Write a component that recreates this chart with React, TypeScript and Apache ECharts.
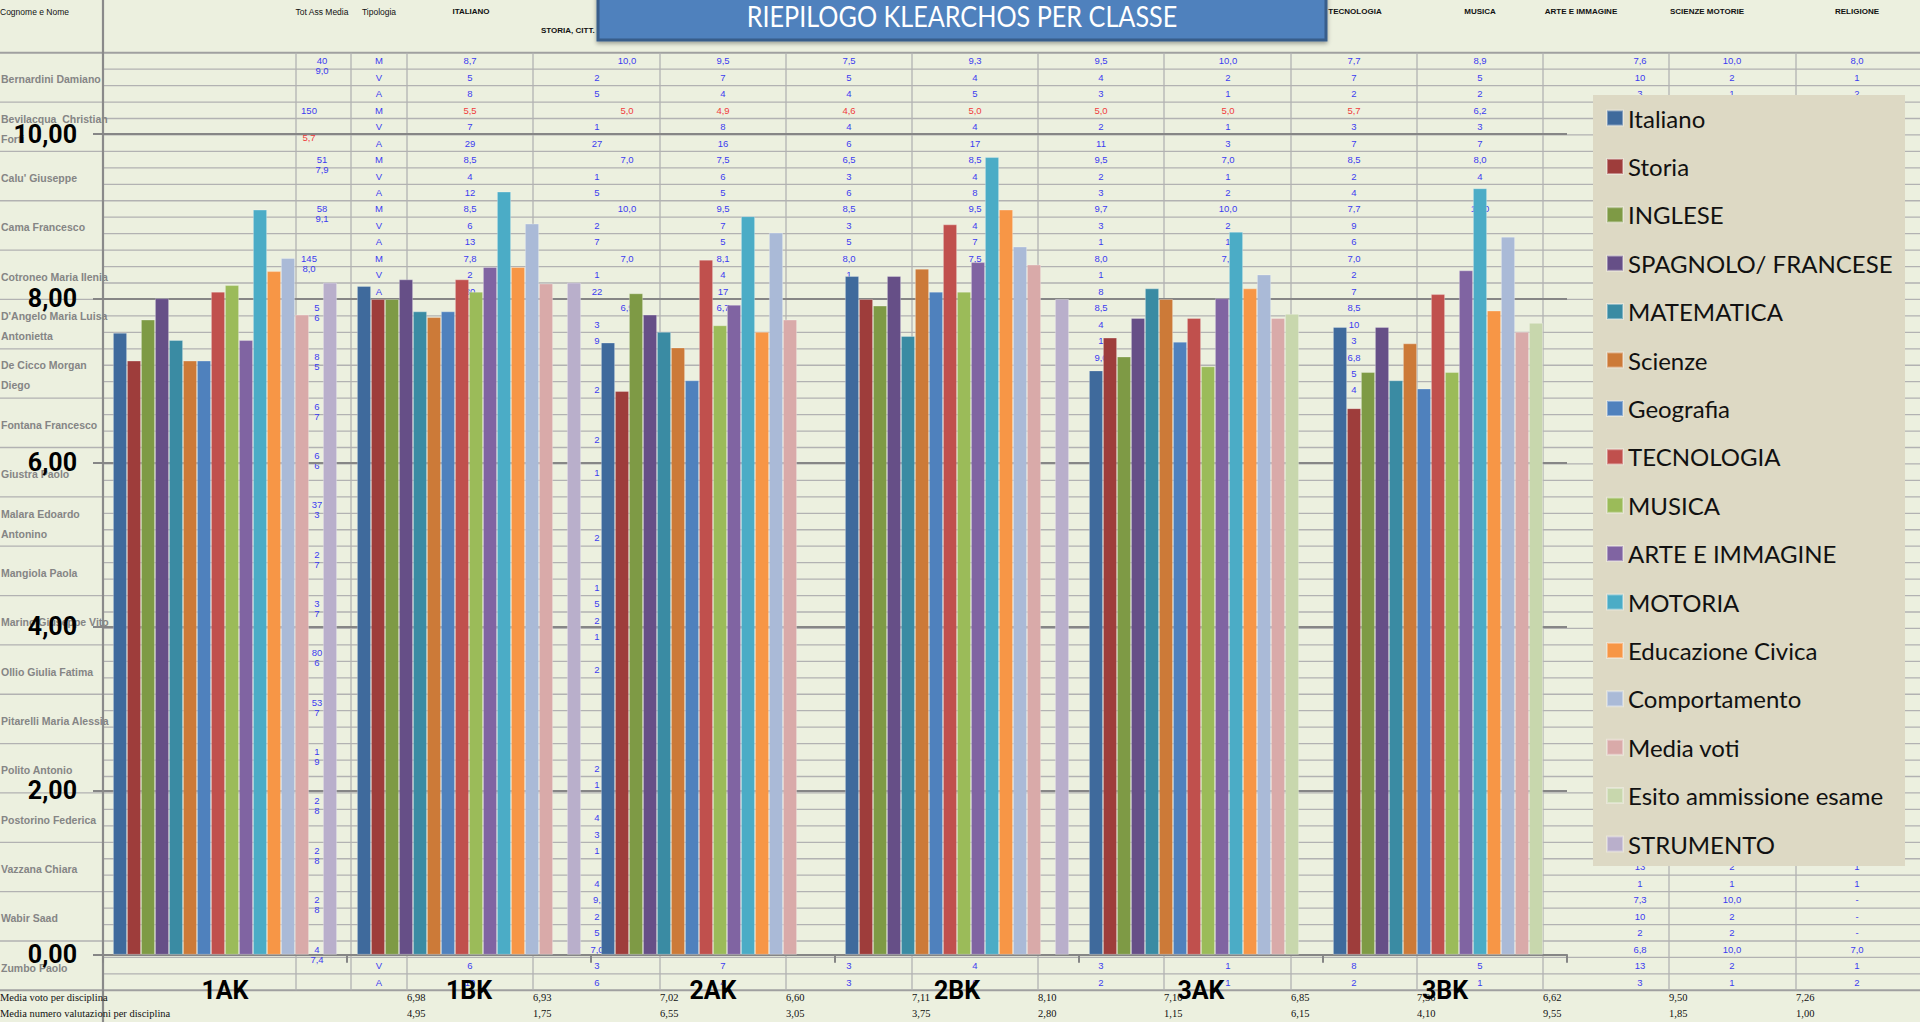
import React, { useEffect, useRef } from "react";
import * as echarts from "echarts";

// ---------------- chart data ----------------
const classes = ["1AK", "1BK", "2AK", "2BK", "3AK", "3BK"];
const subjectNames = [
  "Italiano", "Storia", "INGLESE", "SPAGNOLO/ FRANCESE", "MATEMATICA", "Scienze",
  "Geografia", "TECNOLOGIA", "MUSICA", "ARTE E IMMAGINE", "MOTORIA",
  "Educazione Civica", "Comportamento", "Media voti", "Esito ammissione esame", "STRUMENTO",
];
const subjectColors = [
  "#3F6A9C", "#9E3D3B", "#7E9A45", "#664F87", "#3A8BA3", "#CC7A38",
  "#4F81BD", "#C0504D", "#9BBB59", "#8064A2", "#4BACC6",
  "#F79646", "#AABAD7", "#D9AAA9", "#C8D7AD", "#B9AFCB",
];
const italiano = [7.58, 8.15, 7.46, 8.27, 7.12, 7.65];
const storia = [7.24, 7.99, 6.87, 7.99, 7.52, 6.66];
const inglese = [7.74, 7.99, 8.06, 7.91, 7.29, 7.1];
const spagnoloFrancese = [8.0, 8.23, 7.8, 8.27, 7.76, 7.65];
const matematica = [7.49, 7.84, 7.59, 7.54, 8.12, 7.0];
const scienze = [7.24, 7.77, 7.4, 8.36, 7.99, 7.45];
const geografia = [7.24, 7.84, 7.0, 8.08, 7.47, 6.9];
const tecnologia = [8.08, 8.23, 8.47, 8.9, 7.76, 8.05];
const musica = [8.16, 8.08, 7.67, 8.08, 7.17, 7.1];
const arteImmagine = [7.49, 8.38, 7.92, 8.44, 8.0, 8.34];
const motoria = [9.08, 9.3, 9.0, 9.72, 8.81, 9.34];
const educazioneCivica = [8.33, 8.38, 7.59, 9.08, 8.12, 7.85];
const comportamento = [8.49, 8.91, 8.8, 8.63, 8.29, 8.75];
const mediaVoti = [7.8, 8.18, 7.74, 8.41, 7.76, 7.59];
const esitoAmmissione = [null, null, null, null, 7.81, 7.7];
const strumento = [8.19, 8.19, null, 7.99, null, null];
const seriesValues = [
  italiano, storia, inglese, spagnoloFrancese, matematica, scienze, geografia,
  tecnologia, musica, arteImmagine, motoria, educazioneCivica, comportamento,
  mediaVoti, esitoAmmissione, strumento,
];
const titleText = "RIEPILOGO KLEARCHOS PER CLASSE";

// ---------------- background spreadsheet texts ----------------
const headerTexts = [
  "Cognome e Nome", "Tot Ass Media", "Tipologia", "ITALIANO", "STORIA, CITT.",
  "TECNOLOGIA", "MUSICA", "ARTE E IMMAGINE", "SCIENZE MOTORIE", "RELIGIONE",
];
const studentNames = [
  ["Bernardini Damiano"], ["Bevilacqua  Christian", "Forti"], ["Calu' Giuseppe"],
  ["Cama Francesco"], ["Cotroneo Maria Ilenia"], ["D'Angelo Maria Luisa", "Antonietta"],
  ["De Cicco Morgan", "Diego"], ["Fontana Francesco"], ["Giustra Paolo"],
  ["Malara Edoardo", "Antonino"], ["Mangiola Paola"], ["Marino Giuseppe Vito"],
  ["Ollio Giulia Fatima"], ["Pitarelli Maria Alessia"], ["Polito Antonio"],
  ["Postorino Federica"], ["Vazzana Chiara"], ["Wabir Saad"], ["Zumbo Paolo"],
];
const tipologia = ["M", "V", "A"];
const totAssMedia = [
  ["40", "9,0"], ["150", "5,7"], ["51", "7,9"], ["58", "9,1"], ["145", "8,0"],
  ["5", "6"], ["8", "5"], ["6", "7"], ["6", "6"], ["37", "3"], ["2", "7"],
  ["3", "7"], ["80", "6"], ["53", "7"], ["1", "9"], ["2", "8"], ["2", "8"],
  ["2", "8"], ["4", "7,4"],
];
const tableRows = [
  ["8,7", "10,0", "9,5", "7,5", "9,3", "9,5", "10,0", "7,7", "8,9", "7,6", "10,0", "8,0"],
  ["5", "2", "7", "5", "4", "4", "2", "7", "5", "10", "2", "1"],
  ["8", "5", "4", "4", "5", "3", "1", "2", "2", "3", "1", "2"],
  ["5,5", "5,0", "4,9", "4,6", "5,0", "5,0", "5,0", "5,7", "6,2"],
  ["7", "1", "8", "4", "4", "2", "1", "3", "3"],
  ["29", "27", "16", "6", "17", "11", "3", "7", "7"],
  ["8,5", "7,0", "7,5", "6,5", "8,5", "9,5", "7,0", "8,5", "8,0"],
  ["4", "1", "6", "3", "4", "2", "1", "2", "4"],
  ["12", "5", "5", "6", "8", "3", "2", "4", ""],
  ["8,5", "10,0", "9,5", "8,5", "9,5", "9,7", "10,0", "7,7", "10,0"],
  ["6", "2", "7", "3", "4", "3", "2", "9", ""],
  ["13", "7", "5", "5", "7", "1", "1", "6", ""],
  ["7,8", "7,0", "8,1", "8,0", "7,5", "8,0", "7,0", "7,0", ""],
  ["2", "1", "4", "1", "", "1", "", "2", ""],
  ["30", "22", "17", "", "", "8", "", "7", ""],
  ["", "6,9", "6,7", "", "", "8,5", "", "8,5", ""],
  ["", "3", "", "", "", "4", "", "10", ""],
  ["", "9", "", "", "", "1", "", "3", ""],
  ["", "", "", "", "", "9,0", "", "6,8", ""],
  ["", "", "", "", "", "", "", "5", ""],
  ["", "2", "", "", "", "", "", "4", ""],
];
const redCells = [[3, 0], [3, 1], [3, 2], [3, 3], [3, 4], [3, 5], [3, 6], [3, 7]];
const extraCells: [number, number, string][] = [
  [23, 1, "2"], [25, 1, "1"], [29, 1, "2"], [32, 1, "1"], [33, 1, "5"], [34, 1, "2"],
  [35, 1, "1"], [37, 1, "2"], [43, 1, "2"], [44, 1, "1"], [46, 1, "4"], [47, 1, "3"],
  [48, 1, "1"], [50, 1, "4"], [51, 1, "9,"], [52, 1, "2"], [53, 1, "5"], [54, 1, "7,0"],
  [49, 9, "13"], [49, 10, "2"], [49, 11, "1"],
  [50, 9, "1"], [50, 10, "1"], [50, 11, "1"],
  [51, 9, "7,3"], [51, 10, "10,0"], [51, 11, "-"],
  [52, 9, "10"], [52, 10, "2"], [52, 11, "-"],
  [53, 9, "2"], [53, 10, "2"], [53, 11, "-"],
  [54, 9, "6,8"], [54, 10, "10,0"], [54, 11, "7,0"],
  [55, 0, "6"], [55, 1, "3"], [55, 2, "7"], [55, 3, "3"], [55, 4, "4"], [55, 5, "3"],
  [55, 6, "1"], [55, 7, "8"], [55, 8, "5"], [55, 9, "13"], [55, 10, "2"], [55, 11, "1"],
  [56, 0, "10"], [56, 1, "6"], [56, 2, "4"], [56, 3, "3"], [56, 4, "6"], [56, 5, "2"],
  [56, 6, "1"], [56, 7, "2"], [56, 8, "1"], [56, 9, "3"], [56, 10, "1"], [56, 11, "2"],
];
const summaryLabels = ["Media voto per disciplina", "Media numero valutazioni per disciplina"];
const mediaVotoDisciplina = ["6,98", "6,93", "7,02", "6,60", "7,11", "8,10", "7,10", "6,85", "7,36", "6,62", "9,50", "7,26"];
const mediaNumeroValutazioni = ["4,95", "1,75", "6,55", "3,05", "3,75", "2,80", "1,15", "6,15", "4,10", "9,55", "1,85", "1,00"];

// ---------------- layout (positions and styles) ----------------
const ROW_TOP = 52.7;
const SUB = 16.45;
const N_SUB = 57;
const rowY = (r: number) => ROW_TOP + SUB * (r + 0.5);
const colCenter = [470, 597, 723, 849, 975, 1101, 1228, 1354, 1480, 1640, 1732, 1857];
const colStart = [407, 533, 660, 786, 912, 1038, 1164, 1291, 1417, 1543, 1669, 1796];
const vLines = [296, 351, 407, 533, 660, 786, 912, 1038, 1164, 1291, 1417, 1543, 1669, 1796];
const BLUE = "#3c3cf0";
const RED = "#f03c3c";
const SANS = '"Liberation Sans", Arial, sans-serif';
const AXISFONT = 'Roboto, "Liberation Sans", sans-serif';

function t(x: number, y: number, text: string, o: any = {}) {
  const align = o.align || "center";
  return {
    type: "text",
    x,
    y,
    z: o.z ?? 0,
    silent: true,
    scaleX: o.scaleX ?? 1,
    style: {
      text,
      fill: o.fill || BLUE,
      font: o.font || `9.5px ${SANS}`,
      textAlign: align,
      align,
      textVerticalAlign: "middle",
      verticalAlign: "middle",
    },
  };
}
function ln(x1: number, y1: number, x2: number, y2: number, stroke: string, w: number) {
  return { type: "line", z: 0, silent: true, shape: { x1, y1, x2, y2 }, style: { stroke, lineWidth: w } };
}

function buildGraphic() {
  const els: any[] = [];
  const lineCol = "#b2b2b2";
  for (let k = 0; k <= N_SUB; k++) {
    const y = ROW_TOP + SUB * k;
    const heavy = k === 0 || k === N_SUB;
    els.push(ln(103, y, 1920, y, heavy ? "#a0a0a0" : lineCol, heavy ? 2 : 1.3));
    if (k % 3 === 0) els.push(ln(0, y, 103, y, heavy ? "#a0a0a0" : lineCol, heavy ? 2 : 1.3));
  }
  vLines.forEach((x) => els.push(ln(x, ROW_TOP, x, ROW_TOP + SUB * N_SUB, lineCol, 1.3)));
  els.push(ln(103, 0, 103, 1022, "#8a8a8a", 2.2));

  // header
  const hb = `bold 8px ${SANS}`;
  els.push(t(0, 12, headerTexts[0], { align: "left", fill: "#111", font: `8.5px ${SANS}` }));
  els.push(t(322, 12, headerTexts[1], { fill: "#111", font: `8.5px ${SANS}` }));
  els.push(t(379, 12, headerTexts[2], { fill: "#111", font: `8.5px ${SANS}` }));
  els.push(t(471, 11, headerTexts[3], { fill: "#111", font: hb }));
  els.push(t(541, 30, headerTexts[4], { align: "left", fill: "#111", font: hb }));
  els.push(t(1355, 11, headerTexts[5], { fill: "#111", font: hb }));
  els.push(t(1480, 11, headerTexts[6], { fill: "#111", font: hb }));
  els.push(t(1581, 11, headerTexts[7], { fill: "#111", font: hb }));
  els.push(t(1707, 11, headerTexts[8], { fill: "#111", font: hb }));
  els.push(t(1857, 11, headerTexts[9], { fill: "#111", font: hb }));

  // names
  studentNames.forEach((lines, i) => {
    const cy = ROW_TOP + SUB * 3 * i + SUB * 1.5 + 2;
    lines.forEach((s, j) => {
      const y = lines.length === 1 ? cy : cy - 10 + 20 * j;
      els.push(t(1, y, s, { align: "left", fill: "#858585", font: `bold 10.5px ${SANS}` }));
    });
  });

  // tipologia
  for (let r = 0; r < N_SUB; r++) els.push(t(379, rowY(r), tipologia[r % 3]));

  // tot ass media
  totAssMedia.forEach(([a, b], i) => {
    const top = ROW_TOP + SUB * 3 * i;
    if (i < 5) {
      const x = a.length === 3 ? 309 : 322;
      els.push(t(x, top + 8, a));
      els.push(t(x, i === 1 ? top + 35 : top + 18, b, { fill: i === 1 ? RED : BLUE }));
    } else {
      els.push(t(317, top + 8, a));
      els.push(t(317, top + 18, b));
    }
  });

  // table cells
  const isRed = (r: number, c: number) => redCells.some(([a, b]) => a === r && b === c);
  tableRows.forEach((row, r) => {
    row.forEach((s, c) => {
      if (!s) return;
      const x = c === 1 && r % 3 === 0 ? 627 : colCenter[c];
      els.push(t(x, rowY(r), s, { fill: isRed(r, c) ? RED : BLUE }));
    });
  });
  extraCells.forEach(([r, c, s]) => els.push(t(colCenter[c], rowY(r), s)));

  // summary rows
  const serif = `10.5px "Liberation Serif", "Times New Roman", serif`;
  els.push(t(0, 997, summaryLabels[0], { align: "left", fill: "#111", font: serif }));
  els.push(t(0, 1013, summaryLabels[1], { align: "left", fill: "#111", font: serif }));
  mediaVotoDisciplina.forEach((s, i) => els.push(t(colStart[i], 997, s, { align: "left", fill: "#111", font: serif })));
  mediaNumeroValutazioni.forEach((s, i) => els.push(t(colStart[i], 1013, s, { align: "left", fill: "#111", font: serif })));

  // legend background
  els.push({ type: "rect", z: 3, silent: true, shape: { x: 1593, y: 95, width: 312, height: 771 }, style: { fill: "#DDD9C4" } });

  // title box
  els.push({
    type: "rect", z: 50, silent: true,
    shape: { x: 598, y: -6, width: 728, height: 46 },
    style: { fill: "#4F81BD", stroke: "#385D8A", lineWidth: 3, shadowBlur: 4, shadowOffsetY: 2, shadowColor: "rgba(0,0,0,0.35)" },
  });
  els.push(t(962, 16, titleText, { z: 51, fill: "#ffffff", font: `28px Lato, "Open Sans", sans-serif`, scaleX: 0.9 }));
  return els;
}

function buildOption(): any {
  const axisGray = "#868686";
  return {
    animation: false,
    backgroundColor: "#ECF0DF",
    grid: { left: 103, right: 353, top: 134.2, bottom: 67.3, containLabel: false },
    legend: {
      data: subjectNames,
      orient: "vertical",
      left: 1606,
      top: 106,
      padding: 0,
      itemWidth: 16,
      itemHeight: 15,
      itemGap: 24.4,
      icon: "rect",
      selectedMode: false,
      z: 10,
      textStyle: { fontFamily: 'Lato, "Open Sans", sans-serif', fontSize: 24, color: "#111" },
    },
    xAxis: {
      type: "category",
      data: classes,
      z: 1,
      axisLine: { show: true, lineStyle: { color: axisGray, width: 2 } },
      axisTick: { show: true, length: 8, lineStyle: { color: axisGray, width: 2 } },
      axisLabel: { margin: 23, color: "#000", fontFamily: AXISFONT, fontWeight: "bold", fontSize: 25 },
      splitLine: { show: false },
    },
    yAxis: {
      type: "value",
      min: 0,
      max: 10,
      interval: 2,
      z: 1,
      axisLine: { show: false },
      axisTick: { show: true, length: 10, lineStyle: { color: axisGray, width: 2 } },
      axisLabel: {
        margin: 26, color: "#000", fontFamily: AXISFONT, fontWeight: "bold", fontSize: 25,
        formatter: (v: number) => v.toFixed(2).replace(".", ","),
      },
      splitLine: { show: true, lineStyle: { color: axisGray, width: 2 } },
    },
    series: subjectNames.map((name, i) => ({
      name,
      type: "bar",
      z: 5,
      barGap: "0%",
      barCategoryGap: "8.2%",
      data: seriesValues[i],
      itemStyle: { color: subjectColors[i], borderColor: "rgba(255,255,255,0.35)", borderWidth: 0.8 },
    })),
    graphic: { elements: buildGraphic() },
  };
}

export default function App() {
  const ref = useRef<HTMLDivElement>(null);
  useEffect(() => {
    const chart = echarts.init(ref.current!, null, { renderer: "svg" });
    chart.setOption(buildOption());
    return () => chart.dispose();
  }, []);
  return <div ref={ref} style={{ position: "fixed", left: 0, top: 0, width: 1920, height: 1022 }} />;
}
